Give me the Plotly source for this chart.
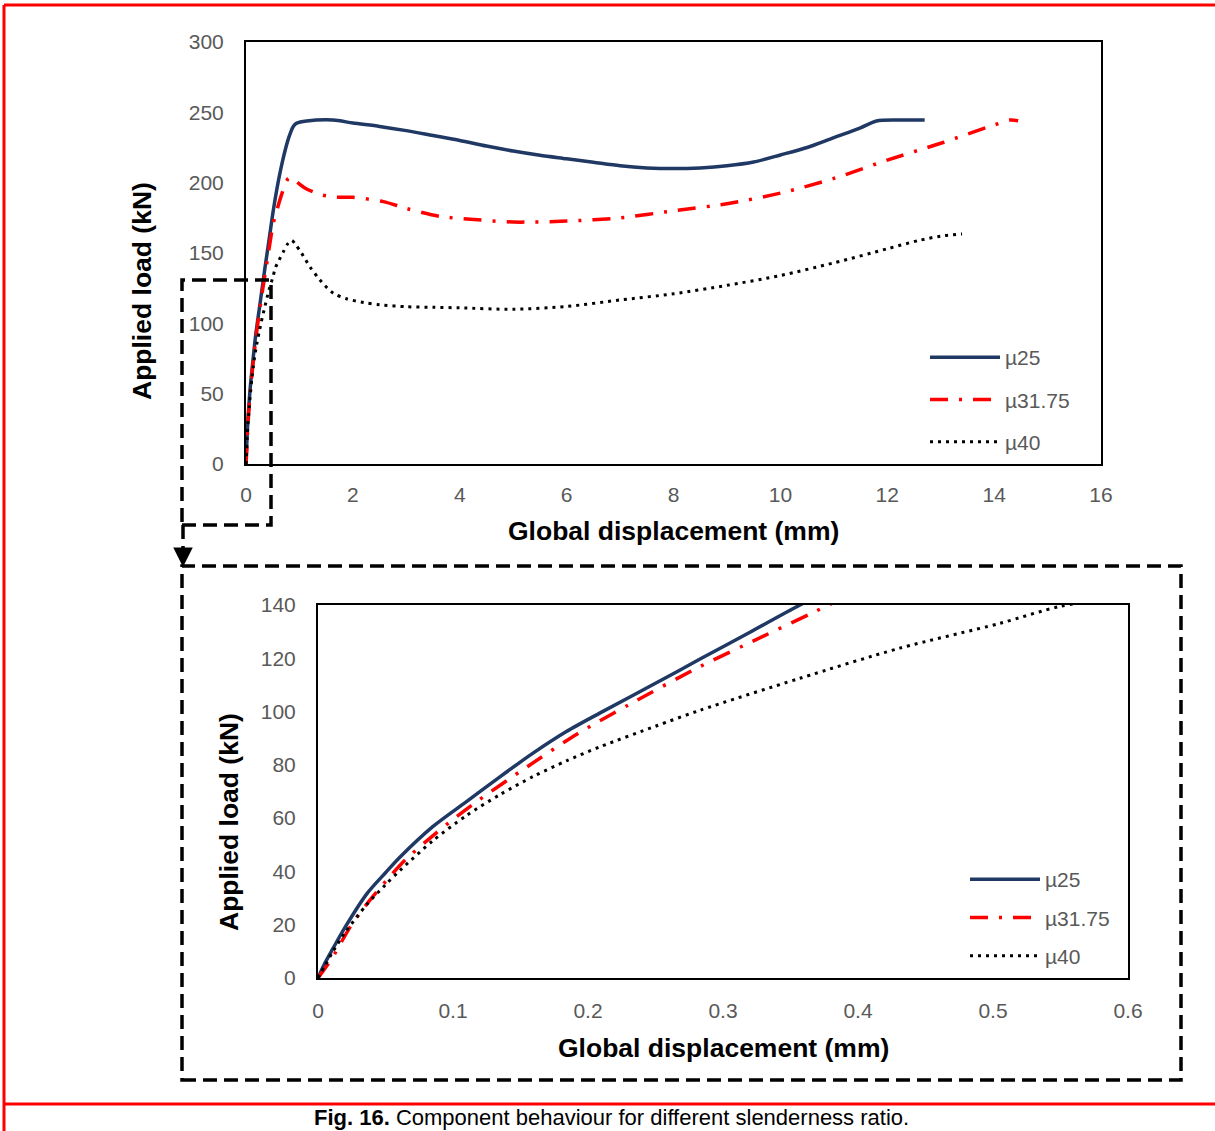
import plotly.graph_objects as go

W, H = 1215, 1131

# ---------------- data ----------------
mu25_x = [0, 0.005, 0.011, 0.02, 0.036, 0.05, 0.061, 0.085, 0.11, 0.135, 0.159, 0.184, 0.209,
          0.25, 0.283, 0.32, 0.357, 0.43, 0.51, 0.60, 0.70, 0.80, 0.885, 0.95, 1.135, 1.63,
          2.0, 2.5, 3.0, 3.5, 4.0, 4.5, 5.0, 5.5, 6.0, 6.5, 7.0, 7.5, 8.0, 8.5, 9.0, 9.5,
          10.0, 10.5, 11.0, 11.5, 11.8, 12.2, 12.7]
mu25_y = [0, 5.5, 11, 19, 31.5, 39.5, 45.5, 56.8, 66.2, 75.6, 84.3, 92.5, 99.5,
          110.6, 119.7, 129.8, 140, 159, 180, 200, 218, 232, 240, 242.3, 243.8, 244.5,
          242.4, 240, 237, 233.5, 230, 226, 222.5, 219.5, 217, 214.5, 212, 210.5, 210, 210.5, 212, 214.7,
          219.7, 225, 232, 239, 243.8, 244.5, 244.5]

mu3175_x = [0, 0.005, 0.011, 0.024, 0.035, 0.051, 0.065, 0.083, 0.1, 0.1175, 0.155, 0.192, 0.23,
            0.283, 0.33, 0.368, 0.44, 0.51, 0.59, 0.67, 0.74, 0.79, 0.83, 0.95, 1.135, 1.4, 1.63,
            2.0, 2.57, 3.0, 3.63, 4.2, 5.0, 6.0, 7.0, 8.0, 9.0, 10.0, 11.0, 12.0, 13.0, 14.0,
            14.3, 14.45]
mu3175_y = [0, 3.5, 7.9, 19.3, 27, 36.8, 44.5, 52.5, 59.5, 66.2, 79.3, 91.6, 102.5,
            116.9, 128.3, 137.5, 155, 171, 182, 192, 199.5, 203, 203.8, 200.5, 195.5, 191.5, 189.8,
            189.6, 186.5, 181.7, 176, 174, 172, 172.7, 175, 180, 185, 192.6, 203, 216, 228, 241,
            244.5, 244]

mu40_x = [0, 0.005, 0.011, 0.02, 0.036, 0.05, 0.061, 0.085, 0.11, 0.135, 0.16, 0.184, 0.209,
          0.25, 0.283, 0.357, 0.431, 0.505, 0.55, 0.62, 0.70, 0.78, 0.855, 0.93, 1.04, 1.2,
          1.385, 1.63, 1.88, 2.2, 2.5, 3.0, 3.5, 4.0, 5.0, 6.0, 7.0, 8.0, 9.0, 10.0, 11.0,
          12.0, 12.6, 13.0, 13.4]
mu40_y = [0, 4.5, 9.9, 17, 27.5, 35, 40.5, 51.5, 61, 68.9, 75.8, 81.5, 86.8,
          94.5, 100.5, 112.5, 123.8, 133.1, 139.5, 145, 151, 156.5, 159, 156, 149.8, 140,
          130.8, 121.5, 117.5, 114.8, 113.2, 111.8, 111.4, 111, 110, 112, 116.6, 121, 127, 134, 143,
          153, 159, 162, 163.5]

series_names = ["\u00b525", "\u00b531.75", "\u00b540"]

top_x_ticks = [0, 2, 4, 6, 8, 10, 12, 14, 16]
top_y_ticks = [0, 50, 100, 150, 200, 250, 300]
bot_x_ticks = [0, 0.1, 0.2, 0.3, 0.4, 0.5, 0.6]
bot_y_ticks = [0, 20, 40, 60, 80, 100, 120, 140]

x_title = "Global displacement (mm)"
y_title = "Applied load (kN)"
caption = "<b>Fig. 16.</b> Component behaviour for different slenderness ratio."

# ---------------- helpers ----------------
def px(x):
    return x / W

def py(y):
    return 1 - y / H

NAVY = "#203864"
RED = "#FF0000"
GREY = "#595959"
FONT = "Liberation Sans, Arial, sans-serif"

styles = [
    dict(color=NAVY, width=3.5, dash="solid"),
    dict(color=RED, width=3.5, dash="18px,11px,3px,11px"),
    dict(color="black", width=3, dash="3px,5px"),
]
data = [(mu25_x, mu25_y), (mu3175_x, mu3175_y), (mu40_x, mu40_y)]

fig = go.Figure()
for (xs, ys), name, st in zip(data, series_names, styles):
    fig.add_trace(go.Scatter(x=xs, y=ys, mode="lines", name=name,
                             line=dict(shape="spline", smoothing=0.8, **st),
                             xaxis="x", yaxis="y", legend="legend", legendgroup=name))
for (xs, ys), name, st in zip(data, series_names, styles):
    fig.add_trace(go.Scatter(x=xs, y=ys, mode="lines", name=name,
                             line=dict(shape="spline", smoothing=0.8, **st),
                             xaxis="x2", yaxis="y2", legend="legend2", legendgroup=name + "b"))

axis_common = dict(showgrid=False, zeroline=False, showline=True, linecolor="black", linewidth=2,
                   mirror=True, ticks="", automargin=False,
                   tickfont=dict(family=FONT, size=21, color=GREY))

fig.update_layout(
    width=W, height=H, margin=dict(l=0, r=0, t=0, b=0, pad=0, autoexpand=False),
    paper_bgcolor="white", plot_bgcolor="white",
    xaxis=dict(domain=[px(246), px(1101)], range=[0, 16], tickvals=top_x_ticks, anchor="y",
               ticklabelstandoff=11, **axis_common),
    yaxis=dict(domain=[py(464), py(42)], range=[0, 300], tickvals=top_y_ticks, anchor="x",
               ticklabelstandoff=16, **axis_common),
    xaxis2=dict(domain=[px(318), px(1128)], range=[0, 0.6], tickvals=bot_x_ticks, anchor="y2",
                ticklabelstandoff=13, **axis_common),
    yaxis2=dict(domain=[py(978), py(605)], range=[0, 140], tickvals=bot_y_ticks, anchor="x2",
                ticklabelstandoff=16, **axis_common),
    legend=dict(x=px(925), y=py(337), xanchor="left", yanchor="top", bgcolor="rgba(0,0,0,0)",
                font=dict(family=FONT, size=21, color=GREY), tracegroupgap=12, itemwidth=70),
    legend2=dict(x=px(965), y=py(859), xanchor="left", yanchor="top", bgcolor="rgba(0,0,0,0)",
                 font=dict(family=FONT, size=21, color=GREY), tracegroupgap=8, itemwidth=70),
)

annotations = [
    dict(text=y_title, x=px(142), y=py(291), textangle=-90),
    dict(text=x_title, x=px(673), y=py(531)),
    dict(text=y_title, x=px(229), y=py(822), textangle=-90),
    dict(text=x_title, x=px(723), y=py(1048)),
]
for a in annotations:
    fig.add_annotation(xref="paper", yref="paper", showarrow=False, xanchor="center", yanchor="middle",
                       font=dict(family=FONT, size=26.5, color="black"), text="<b>" + a["text"] + "</b>",
                       x=a["x"], y=a["y"], textangle=a.get("textangle", 0))

fig.add_annotation(xref="paper", yref="paper", showarrow=False, xanchor="center", yanchor="middle",
                   x=px(611), y=py(1117), text=caption, font=dict(family=FONT, size=22, color="black"))

# arrow head from small box to large box
fig.add_annotation(xref="paper", yref="paper", x=px(183), y=py(567), ax=0, ay=-14, text="",
                   showarrow=True, arrowhead=2, arrowsize=1.3, arrowwidth=3, arrowcolor="black")

shapes = []
dash_line = dict(color="black", width=3.5, dash="14px,7px")
shapes.append(dict(type="rect", xref="paper", yref="paper", x0=px(182), x1=px(271), y0=py(525), y1=py(280),
                   line=dash_line))
shapes.append(dict(type="line", xref="paper", yref="paper", x0=px(183), x1=px(183), y0=py(525), y1=py(556),
                   line=dash_line))
shapes.append(dict(type="rect", xref="paper", yref="paper", x0=px(182), x1=px(1181), y0=py(1080), y1=py(566),
                   line=dash_line))
red_line = dict(color="red", width=3)
shapes.append(dict(type="line", xref="paper", yref="paper", x0=px(4), x1=1, y0=py(5), y1=py(5), line=red_line))
shapes.append(dict(type="line", xref="paper", yref="paper", x0=px(4), x1=px(4), y0=py(5), y1=0, line=red_line))
shapes.append(dict(type="line", xref="paper", yref="paper", x0=px(4), x1=1, y0=py(1104), y1=py(1104), line=red_line))
fig.update_layout(shapes=shapes)

fig.write_html("out.html")
